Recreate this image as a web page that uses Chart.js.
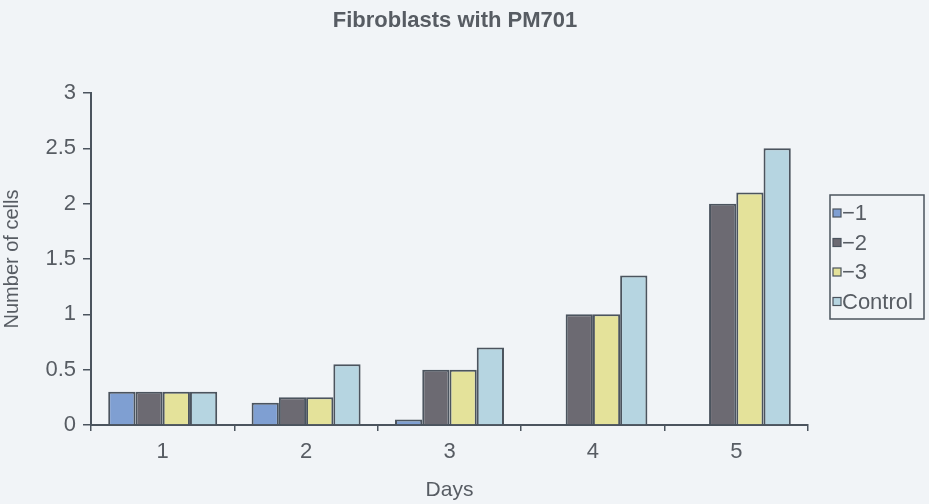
<!DOCTYPE html>
<html>
<head>
<meta charset="utf-8">
<script src="https://cdn.jsdelivr.net/npm/chart.js@4"></script>
<style>
  html, body { margin: 0; padding: 0; background: #f1f4f7; }
  #wrap { width: 929px; height: 504px; }
</style>
</head>
<body>
<div id="wrap"><canvas id="cells" width="929" height="504"></canvas></div>
<script>
/* ======================
DATA
====================== */

const days = ["1", "2", "3", "4", "5"];
const seriesNames = ["\u22121", "\u22122", "\u22123", "Control"];
const minus1 = [0.3, 0.2, 0.05, 0, 0];
const minus2 = [0.3, 0.25, 0.5, 1.0, 2.0];
const minus3 = [0.3, 0.25, 0.5, 1.0, 2.1];
const control = [0.3, 0.55, 0.7, 1.35, 2.5];
const yTicks = [0, 0.5, 1, 1.5, 2, 2.5, 3];
const chartTitle = "Fibroblasts with PM701";

/* ======================
STYLE
====================== */

const FONT = "'Liberation Sans', Arial, Helvetica, sans-serif";
const TEXT = "#575c63";
const LINE = "#4b545e";
const fills = ["#7f9fd2", "#6c6a72", "#e4e29a", "#b6d5e1"];

/* title (offset from the plot centre) + boxed legend on the right */
const decorations = {
  id: "decorations",
  afterDraw(chart) {
    const ctx = chart.ctx;
    ctx.save();
    ctx.fillStyle = TEXT;
    ctx.font = "bold 22px " + FONT;
    ctx.textAlign = "center";
    ctx.textBaseline = "middle";
    ctx.fillText(chartTitle, 455, 21);

    ctx.textAlign = "left";
    ctx.strokeStyle = LINE;
    ctx.lineWidth = 1.5;
    ctx.strokeRect(830, 195, 94, 124);
    ctx.font = "22px " + FONT;
    chart.data.datasets.forEach((ds, i) => {
      const y = 213 + i * 29.5;
      ctx.fillStyle = ds.backgroundColor;
      ctx.fillRect(833, y - 4, 8, 8);
      ctx.strokeStyle = LINE;
      ctx.lineWidth = 1.2;
      ctx.strokeRect(833, y - 4, 8, 8);
      ctx.fillStyle = TEXT;
      ctx.fillText(ds.label, 842, y + 1);
    });
    ctx.restore();
  }
};

const values = [minus1, minus2, minus3, control];

new Chart(document.getElementById("cells"), {
  type: "bar",
  data: {
    labels: days,
    datasets: seriesNames.map((name, i) => ({
      label: name,
      data: values[i],
      backgroundColor: fills[i],
      borderColor: LINE,
      borderWidth: 2,
      categoryPercentage: 0.76,
      barPercentage: 1
    }))
  },
  options: {
    responsive: false,
    animation: false,
    layout: { padding: { left: 0, right: 121, top: 93, bottom: 0 } },
    plugins: {
      legend: { display: false },
      tooltip: { enabled: false },
      title: { display: false }
    },
    scales: {
      x: {
        grid: { drawOnChartArea: false, tickLength: 6, color: LINE, lineWidth: 1.5 },
        border: { color: LINE, width: 2 },
        ticks: { color: TEXT, font: { family: FONT, size: 22 }, padding: 8 },
        title: {
          display: true, text: "Days", color: TEXT,
          font: { family: FONT, size: 21 }, padding: { top: 0, bottom: 1 }
        },
        afterFit(scale) { scale.height = 79; }
      },
      y: {
        min: 0,
        max: 3,
        afterBuildTicks(scale) { scale.ticks = yTicks.map(v => ({ value: v })); },
        grid: { drawOnChartArea: false, tickLength: 8, color: LINE, lineWidth: 1.5 },
        border: { color: LINE, width: 2 },
        ticks: {
          color: TEXT, font: { family: FONT, size: 22 }, padding: 7,
          callback: v => String(v)
        },
        title: {
          display: true, text: "Number of cells", color: TEXT,
          font: { family: FONT, size: 20 }, padding: { top: 0, bottom: 0 }
        },
        afterFit(scale) { scale.width = 91; }
      }
    }
  },
  plugins: [decorations]
});
</script>
</body>
</html>
